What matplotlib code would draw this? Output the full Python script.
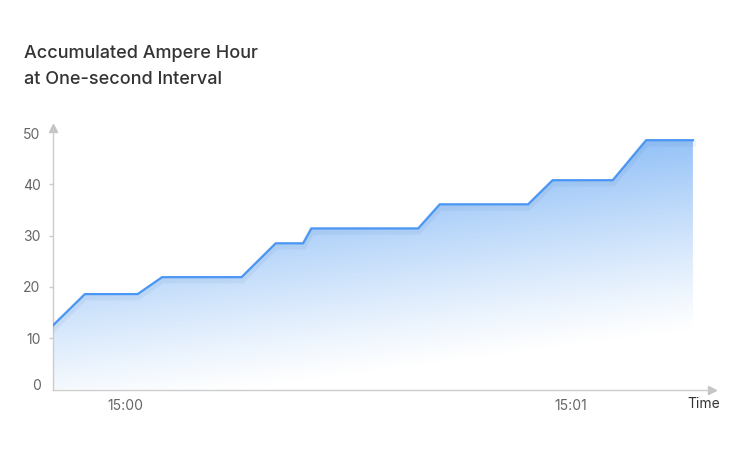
import numpy as np
import matplotlib
matplotlib.use('Agg')
import matplotlib.pyplot as plt
import matplotlib.patheffects as pe

plt.rcParams['font.family'] = ['Inter', 'DejaVu Sans']

# data: seconds relative to 15:00, accumulated Ah
seconds = [-9.8, -5.5, 1.6, 4.9, 15.6, 20.2, 23.9, 25.0, 39.4, 42.3, 54.2, 57.5, 65.6, 70.1, 76.4]
amp_hour = [12.5, 18.6, 18.6, 21.9, 21.9, 28.5, 28.5, 31.4, 31.4, 36.1, 36.1, 40.8, 40.8, 48.6, 48.6]
x_ticks = [0, 60]
x_tick_labels = ['15:00', '15:01']
y_ticks = [0, 10, 20, 30, 40, 50]

line_color = '#4a96f5'
axis_color = '#cccccc'

fig = plt.figure(figsize=(7.44, 4.55), dpi=100)
ax = fig.add_axes([53 / 744, 1 - 389.5 / 455, 658.5 / 744, 261.6 / 455])

x0, x1 = seconds[0], 78.9
y0, y1 = 0, 51
ax.set_xlim(x0, x1)
ax.set_ylim(y0, y1)

# gradient fill, clipped to the area under the line
poly = ax.fill_between(seconds, amp_hour, 0, color='none', lw=0)
nu, nv = 300, 300
u, v = np.meshgrid(np.linspace(0, 1, nu), np.linspace(0, 1, nv))
s = v + 0.1 - 0.33 * u
alpha = np.clip(s / 0.75, 0, 1) ** 1.15
img = np.zeros((nv, nu, 4))
img[..., 0] = 0.58
img[..., 1] = 0.76
img[..., 2] = 0.97
img[..., 3] = alpha
im = ax.imshow(img, extent=[x0, x1, y0, y1], origin='lower', aspect='auto',
               interpolation='bilinear', zorder=1)
im.set_clip_path(poly.get_paths()[0], transform=ax.transData)

ax.plot(seconds, amp_hour, color=line_color, lw=1.6, zorder=3, solid_joinstyle='miter',
        path_effects=[pe.SimpleLineShadow(offset=(0, -2), shadow_color='#3f6fb0',
                                          alpha=0.08, linewidth=5), pe.Normal()])

# axes styling
for side in ['top', 'right']:
    ax.spines[side].set_visible(False)
for side in ['left', 'bottom']:
    ax.spines[side].set_color(axis_color)
    ax.spines[side].set_linewidth(1)

ax.set_xticks(x_ticks)
ax.set_xticklabels(x_tick_labels)
ax.tick_params(axis='x', length=0, pad=7, labelsize=10, labelcolor='#666666')

ax.set_yticks(y_ticks)
ax.set_yticklabels([str(t) for t in y_ticks])
ax.tick_params(axis='y', length=3, width=1, color=axis_color, pad=6,
               labelsize=10, labelcolor='#666666')
yt = ax.yaxis.get_major_ticks()
yt[0].tick1line.set_visible(False)
yt[-1].tick1line.set_visible(False)
yt[0].label1.set_va('baseline')

# axis arrows
ax.plot(0, 1, marker='^', ms=6, color='#c4c4c4', transform=ax.transAxes, clip_on=False)
ax.plot(1, 0, marker='>', ms=6, color='#c4c4c4', transform=ax.transAxes, clip_on=False)

fig.text(704 / 744, 1 - 404 / 455, 'Time', ha='center', va='center', fontsize=10, color='#333333')

fig.text(24 / 744, 1 - 53 / 455, 'Accumulated Ampere Hour', ha='left', va='center',
         fontsize=13, color='#333333', fontweight='medium')
fig.text(24 / 744, 1 - 80 / 455, 'at One-second Interval', ha='left', va='center',
         fontsize=13, color='#333333', fontweight='medium')

fig.savefig('out.png', dpi=100)
